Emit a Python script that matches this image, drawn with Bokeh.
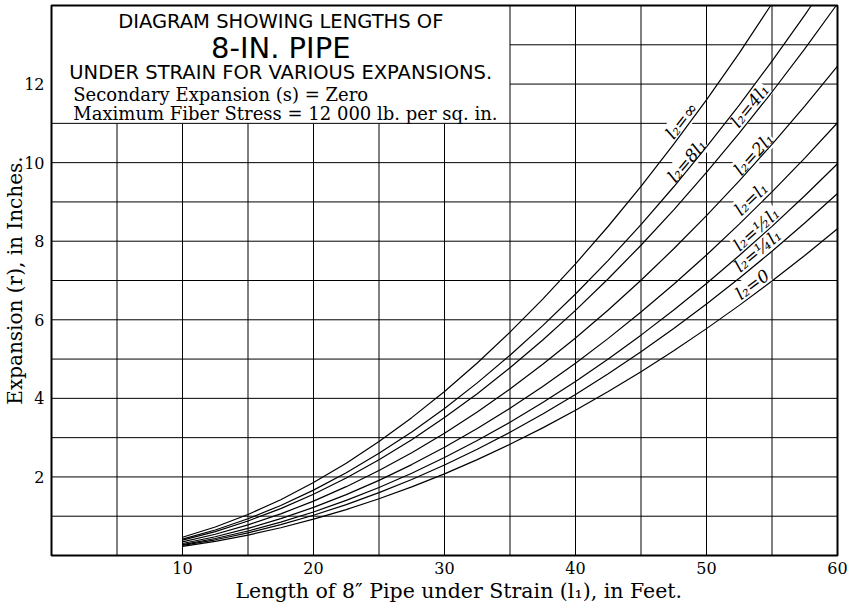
from bokeh.plotting import figure
from bokeh.models import Range1d, FixedTicker, Title, ColumnDataSource
from bokeh.core.properties import value
from bokeh.embed import file_html
from bokeh.resources import INLINE

# Pipe length under strain, l1 (ft)
lengths = [10, 12.5, 15, 17.5, 20, 22.5, 25, 27.5, 30, 32.5, 35, 37.5,
           40, 42.5, 45, 47.5, 50, 52.5, 55, 57.5, 60]

# Expansion r (in.) for each ratio of the second leg l2 to l1
r_inf = [0.464, 0.725, 1.044, 1.421, 1.856, 2.349, 2.900, 3.509, 4.176, 4.901,
         5.684, 6.525, 7.424, 8.381, 9.396, 10.469, 11.600, 12.789, 14.0]
x_inf = lengths[:18] + [54.9]
r_8 = [0.416, 0.650, 0.936, 1.274, 1.664, 2.106, 2.600, 3.146, 3.744, 4.394,
       5.096, 5.850, 6.656, 7.514, 8.424, 9.386, 10.400, 11.466, 12.584, 13.754, 14.0]
x_8 = lengths[:20] + [58.0]
r_4 = [0.390, 0.609, 0.878, 1.194, 1.560, 1.974, 2.438, 2.949, 3.510, 4.119,
       4.778, 5.484, 6.240, 7.044, 7.898, 8.799, 9.750, 10.749, 11.798, 12.894, 14.0]
x_4 = lengths[:20] + [59.9]
r_2 = [0.346, 0.541, 0.779, 1.060, 1.384, 1.752, 2.163, 2.617, 3.114, 3.655,
       4.239, 4.866, 5.536, 6.250, 7.007, 7.807, 8.650, 9.537, 10.467, 11.440, 12.456]
r_1 = [0.306, 0.478, 0.689, 0.937, 1.224, 1.549, 1.913, 2.314, 2.754, 3.232,
       3.749, 4.303, 4.896, 5.527, 6.197, 6.904, 7.650, 8.434, 9.257, 10.117, 11.016]
r_half = [0.277, 0.433, 0.623, 0.848, 1.108, 1.402, 1.731, 2.095, 2.493, 2.926,
          3.393, 3.895, 4.432, 5.003, 5.609, 6.250, 6.925, 7.635, 8.379, 9.158, 9.972]
r_quarter = [0.256, 0.400, 0.576, 0.784, 1.024, 1.296, 1.600, 1.936, 2.304, 2.704,
             3.136, 3.600, 4.096, 4.624, 5.184, 5.776, 6.400, 7.056, 7.744, 8.464, 9.216]
r_zero = [0.231, 0.361, 0.520, 0.707, 0.924, 1.169, 1.444, 1.747, 2.079, 2.440,
          2.830, 3.248, 3.696, 4.172, 4.678, 5.212, 5.775, 6.367, 6.988, 7.637, 8.316]

curves = [
    (x_inf, r_inf), (x_8, r_8), (x_4, r_4), (lengths, r_2),
    (lengths, r_1), (lengths, r_half), (lengths, r_quarter), (lengths, r_zero),
]

# Curve labels, placed alongside each curve near its upper end
label_text = ["l₂=∞", "l₂=8l₁", "l₂=4l₁", "l₂=2l₁", "l₂=l₁", "l₂=½l₁", "l₂=¼l₁", "l₂=0"]
label_x = [48.1, 48.5, 53.3, 53.6, 53.4, 53.8, 53.9, 53.5]
label_y = [11.07, 10.05, 11.45, 10.22, 9.08, 8.31, 7.76, 6.90]
label_angle = [52, 50, 51, 48, 44, 42, 40, 37]

x_ticks = [10, 20, 30, 40, 50, 60]
y_ticks = [2, 4, 6, 8, 10, 12]

title_lines = ["DIAGRAM SHOWING LENGTHS OF", "8-IN. PIPE", "UNDER STRAIN FOR VARIOUS EXPANSIONS."]
note_lines = ["Secondary Expansion (s) = Zero", "Maximum Fiber Stress = 12 000 lb. per sq. in."]
x_title = "Length of 8″ Pipe under Strain (l₁), in Feet."
y_title = "Expansion (r), in Inches."

X_MAX, Y_MAX = 60, 14
BOX_X, BOX_Y = 35, 11   # title panel occupies x < BOX_X, y > BOX_Y

SERIF = "DejaVu Serif"
SANS = "DejaVu Sans"

p = figure(width=850, height=610, output_backend="svg", toolbar_location=None,
           x_range=Range1d(0, X_MAX), y_range=Range1d(0, Y_MAX),
           min_border_left=51, min_border_right=13, min_border_top=5, min_border_bottom=55)
p.background_fill_color = "white"
p.border_fill_color = "white"
p.outline_line_color = "black"
p.outline_line_width = 2
p.grid.grid_line_color = None

for ax in (p.xaxis[0], p.yaxis[0]):
    ax.axis_line_color = None
    ax.major_tick_line_color = None
    ax.minor_tick_line_color = None
    ax.major_tick_out = 0
    ax.major_tick_in = 0
    ax.major_label_text_font = SERIF
    ax.major_label_text_font_size = "16px"
    ax.major_label_text_color = "black"
p.xaxis[0].ticker = FixedTicker(ticks=x_ticks)
p.yaxis[0].ticker = FixedTicker(ticks=y_ticks)
p.xaxis[0].major_label_standoff = 6
p.yaxis[0].major_label_standoff = 7

# Vertical axis title tucked in against the tick labels
p.yaxis[0].axis_label = y_title
p.yaxis[0].axis_label_text_font = SERIF
p.yaxis[0].axis_label_text_font_size = "20px"
p.yaxis[0].axis_label_text_font_style = "normal"
p.yaxis[0].axis_label_text_color = "black"
p.yaxis[0].axis_label_standoff = -6

# Horizontal axis title, starting a little right of the 15 ft line
p.add_layout(Title(text=x_title, align="left", offset=184, standoff=0,
                   text_font=SERIF, text_font_size="20.5px", text_font_style="normal",
                   text_color="black"), "below")

# Grid drawn by hand: it stops at the title panel
vx = [5 * i for i in range(1, 12)]
vy0 = [0] * len(vx)
vy1 = [Y_MAX if x >= BOX_X else BOX_Y for x in vx]
hy = list(range(1, Y_MAX))
hx0 = [BOX_X if y > BOX_Y else 0 for y in hy]
hx1 = [X_MAX] * len(hy)
p.segment(x0=vx, y0=vy0, x1=vx, y1=vy1, line_color="black", line_width=1)
p.segment(x0=hx0, y0=hy, x1=hx1, y1=hy, line_color="black", line_width=1)

# Curve labels with a white ground that masks the grid behind them
lab_src = ColumnDataSource(dict(x=label_x, y=label_y, text=label_text, angle=label_angle))
p.text(x="x", y="y", text="text", angle="angle", angle_units="deg", source=lab_src,
       text_font=value(SERIF), text_font_style="italic", text_font_size="17px",
       text_color="black", text_align="center", text_baseline="middle",
       background_fill_color="white", padding=0)

for xs, rs in curves:
    p.line(xs, rs, line_color="black", line_width=1.2)

# Title panel
cx = BOX_X / 2
p.text(x=[cx], y=[13.60], text=[title_lines[0]], text_font=value(SANS), text_font_size="19.5px",
       text_align="center", text_baseline="middle", text_color="black")
p.text(x=[cx], y=[12.92], text=[title_lines[1]], text_font=value(SANS), text_font_size="29px",
       text_align="center", text_baseline="middle", text_color="black")
p.text(x=[cx], y=[12.29], text=[title_lines[2]], text_font=value(SANS), text_font_size="19.5px",
       text_align="center", text_baseline="middle", text_color="black")
p.text(x=[1.66, 1.66], y=[11.73, 11.25], text=note_lines, text_font=value(SERIF),
       text_font_size="18px", text_align="left", text_baseline="middle", text_color="black")

open("out.html", "w").write(file_html(p, INLINE))
